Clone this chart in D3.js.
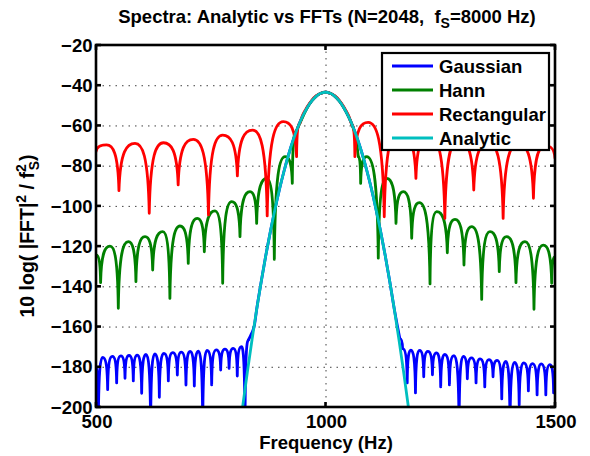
<!DOCTYPE html>
<html>
<head>
<meta charset="utf-8">
<script src="https://cdn.jsdelivr.net/npm/d3@7"></script>
<style>
body { margin:0; background:#fff; }
text { font-family: "Liberation Sans", Arial, Helvetica, sans-serif; font-weight: bold; fill:#000; white-space: pre; }
</style>
</head>
<body>
<div id="chart"></div>
<script>
// ---- data: [frequency Hz, dB] ----
var xTicks = [500, 1000, 1500];
var yTicks = [-20, -40, -60, -80, -100, -120, -140, -160, -180, -200];
var seriesNames = ["Gaussian", "Hann", "Rectangular", "Analytic"];
var seriesColors = ["#0000ff", "#008000", "#ff0000", "#00bfbf"];

// sidelobes are listed null / peak / null ...
var gaussLeft = [[500,-180],[505,-210],[514.5,-175.3],[525.4,-191.4],[535.6,-174.8],[545,-188],[554,-174.6],[563.2,-185.7],
  [572,-174.4],[581.3,-187],[590,-174.2],[599.5,-193.2],[609,-173.9],[619,-210],[628,-173.6],[638,-195.2],[648,-173.3],
  [657.6,-187],[667,-173],[677.2,-184.1],[686,-172.7],[696,-189.1],[705,-172.4],[714.2,-189.6],[723,-172.2],[732.5,-210],
  [742,-171.9],[752,-189],[762,-171.6],[771.6,-181.6],[781,-171.2],[790,-180.8],[799,-170.8],[807.8,-184.6],[817,-170],
  [824.6,-212],[832,-166.7]];
var gaussMain = [[832,-166.7],[839,-163.4],[845,-159.5],[850,-151.5],[860,-137.6],[870,-124.6],[880,-112.6],[890,-101.6],
  [900,-91.5],[910,-82.4],[920,-74.2],[930,-67],[940,-60.8],[950,-55.5],[960,-51.2],[970,-47.8],[980,-45.4],[990,-44],
  [1000,-43.5],[1010,-44],[1020,-45.4],[1030,-47.8],[1040,-51.2],[1050,-55.5],[1060,-60.8],[1070,-67],[1080,-74.2],
  [1090,-82.4],[1100,-91.5],[1110,-101.6],[1120,-112.6],[1130,-124.6],[1140,-137.6],[1150,-151.5],[1156,-159],[1162,-166]];
var gaussRight = [[1162,-166],[1168,-171],[1178,-188],[1186,-171.7],[1196,-193],[1205,-171.8],[1214,-185],[1223,-172.3],
  [1233,-184],[1242,-173.1],[1251,-190],[1260,-173.9],[1270,-189],[1280,-174.5],[1291,-210],[1300,-174.8],[1309,-186],
  [1318,-175.6],[1328,-188],[1337,-176.1],[1347,-190],[1356,-176.4],[1365,-185],[1374,-176.8],[1384,-196],[1393,-177.3],
  [1402,-210],[1412,-177.8],[1422,-199],[1432,-178.1],[1442,-192],[1451,-178.4],[1461,-194],[1470,-178.6],[1480,-194],
  [1489,-178.9],[1497,-193],[1500,-183]];

var hannLeft = [[500,-124.4],[510,-138.2],[530.5,-120],[548.6,-150.9],[570.5,-117.8],[587,-137.7],[606.8,-115.3],
  [623.5,-131.9],[645.3,-112.8],[661,-146],[683,-110],[701,-128.6],[720.7,-106.2],[736,-122.8],[759.3,-102.5],
  [776,-138.5],[795.6,-97.9],[813.7,-115.3],[835.5,-92.9],[850,-108.7],[871.9,-86.3],[888.5,-126.6],[911.8,-75.5],
  [927.7,-88.8],[936,-63]];
var hannMain = [[936,-63],[945,-58.5],[960,-51.2],[970,-47.8],[980,-45.4],[990,-44],[1000,-43.5],[1010,-44],[1020,-45.4],
  [1030,-47.8],[1040,-51.2],[1050,-55.5],[1060,-61],[1066,-66],[1071.5,-75.5]];
var hannRight = [[1071.5,-75.5],[1076.6,-88.8],[1089.7,-75.5],[1115,-126],[1133.3,-86.3],[1153.6,-108.7],[1169.5,-92.9],
  [1187.8,-116.1],[1204.4,-98.4],[1227.7,-138.8],[1242.2,-102.9],[1265.4,-123.3],[1282.1,-106.7],[1301.7,-129.4],
  [1318.5,-110.3],[1340.3,-146.5],[1358.4,-112.8],[1378.6,-132.7],[1394.7,-115.3],[1415,-138.2],[1434.6,-117.8],
  [1454.2,-151.4],[1474.5,-119.5],[1492.8,-138.5],[1500,-125.3]];

var rectLeft = [[500,-73],[523,-69.7],[550,-92.4],[585,-68.9],[616,-103.7],[647,-68.6],[679,-89.6],[712,-66.9],
  [745,-104.5],[776,-64.8],[808,-85.1],[841,-62.3],[873,-105],[908,-58.1],[937,-75.5],[944,-59]];
var rectMain = [[944,-59],[950,-55],[960,-50.8],[970,-47.5],[980,-45.2],[990,-44],[1000,-43.5],[1010,-44],[1020,-45.2],
  [1030,-47.5],[1040,-50.8],[1050,-55],[1057,-59.5]];
var rectRight = [[1057,-59.5],[1064,-75.5],[1093,-58.5],[1128,-105.4],[1160,-62.5],[1197,-86.3],[1226,-65],
  [1260,-106.2],[1290,-67],[1323,-92.1],[1355,-68.5],[1387,-106.2],[1420,-69],[1453,-96.2],[1478,-70],[1500,-76.3]];

var analytic = [[815,-208],[820,-199],[830,-182.2],[840,-166.4],[850,-151.5],[860,-137.6],[870,-124.6],[880,-112.6],
  [890,-101.6],[900,-91.5],[910,-82.4],[920,-74.2],[930,-67],[940,-60.8],[950,-55.5],[960,-51.2],[970,-47.8],[980,-45.4],
  [990,-44],[1000,-43.5],[1010,-44],[1020,-45.4],[1030,-47.8],[1040,-51.2],[1050,-55.5],[1060,-60.8],[1070,-67],
  [1080,-74.2],[1090,-82.4],[1100,-91.5],[1110,-101.6],[1120,-112.6],[1130,-124.6],[1140,-137.6],[1150,-151.5],
  [1160,-166.4],[1170,-182.2],[1180,-199],[1185,-208]];

// ---- layout ----
var W = 590, H = 456;
var pLeft = 96, pRight = 555, pTop = 45, pBottom = 407;
var lw = 2.8;

var svg = d3.select("#chart").append("svg")
    .attr("width", W)
    .attr("height", H);

var x = d3.scaleLinear().domain([500, 1500]).range([pLeft, pRight]);
var y = d3.scaleLinear().domain([-200, -20]).range([pBottom, pTop]);

svg.append("defs").append("clipPath").attr("id", "plotclip")
  .append("rect")
    .attr("x", pLeft).attr("y", pTop)
    .attr("width", pRight - pLeft).attr("height", pBottom - pTop);

// grid (dotted, behind the data)
var grid = svg.append("g").attr("stroke", "#404040").attr("stroke-width", 1).attr("stroke-dasharray", "1.5,5");
grid.selectAll("line.gy").data(yTicks.slice(1, -1)).enter().append("line")
    .attr("x1", pLeft).attr("x2", pRight)
    .attr("y1", function(d){ return y(d) + 0.5; }).attr("y2", function(d){ return y(d) + 0.5; });
grid.selectAll("line.gx").data(xTicks.slice(1, -1)).enter().append("line")
    .attr("y1", pTop).attr("y2", pBottom)
    .attr("x1", function(d){ return x(d) + 0.5; }).attr("x2", function(d){ return x(d) + 0.5; });

// sidelobe drawing: sharp at each null, round over each peak
function lobePath(pts){
  var p = d3.path();
  pts.forEach(function(d, i){
    var x1 = x(d[0]), y1 = y(d[1]);
    if(i == 0){ p.moveTo(x1, y1); return; }
    var x0 = x(pts[i-1][0]), y0 = y(pts[i-1][1]);
    var dx = x1 - x0;
    if(y1 < y0) // up out of a null
      p.bezierCurveTo(x0 + 0.08 * dx, y0 + 0.85 * (y1 - y0), x0 + 0.5 * dx, y1, x1, y1);
    else        // down into a null
      p.bezierCurveTo(x0 + 0.5 * dx, y0, x1 - 0.08 * dx, y1 + 0.85 * (y0 - y1), x1, y1);
  });
  return p.toString();
}

var smooth = d3.line()
    .x(function(d){ return x(d[0]); })
    .y(function(d){ return y(d[1]); })
    .curve(d3.curveMonotoneX);

var plot = svg.append("g").attr("clip-path", "url(#plotclip)")
    .attr("fill", "none").attr("stroke-width", lw)
    .attr("stroke-linejoin", "round").attr("stroke-linecap", "round");

var curves = [
  {color: seriesColors[0], parts: [gaussLeft, gaussMain, gaussRight]},
  {color: seriesColors[1], parts: [hannLeft, hannMain, hannRight]},
  {color: seriesColors[2], parts: [rectLeft, rectMain, rectRight]}
];
curves.forEach(function(c){
  plot.append("path").attr("stroke", c.color).attr("d", lobePath(c.parts[0]));
  plot.append("path").attr("stroke", c.color).attr("d", smooth(c.parts[1]));
  plot.append("path").attr("stroke", c.color).attr("d", lobePath(c.parts[2]));
});
plot.append("path").attr("stroke", seriesColors[3]).attr("d", smooth(analytic));

// box + inward ticks
var tl = 5;
var axes = svg.append("g").attr("stroke", "#000").attr("stroke-width", 2.6).attr("fill", "none");
axes.append("rect")
    .attr("x", pLeft).attr("y", pTop)
    .attr("width", pRight - pLeft).attr("height", pBottom - pTop);
xTicks.forEach(function(t){
  axes.append("line").attr("x1", x(t)).attr("x2", x(t)).attr("y1", pBottom).attr("y2", pBottom - tl);
  axes.append("line").attr("x1", x(t)).attr("x2", x(t)).attr("y1", pTop).attr("y2", pTop + tl);
});
yTicks.forEach(function(t){
  axes.append("line").attr("y1", y(t)).attr("y2", y(t)).attr("x1", pLeft).attr("x2", pLeft + tl);
  axes.append("line").attr("y1", y(t)).attr("y2", y(t)).attr("x1", pRight).attr("x2", pRight - tl);
});

var fs = "18.5px";
svg.append("g").selectAll("text").data(xTicks).enter().append("text")
    .attr("x", function(d){ return x(d) + 1; })
    .attr("y", 428)
    .attr("text-anchor", "middle")
    .style("font-size", fs)
    .text(function(d){ return d; });
svg.append("g").selectAll("text").data(yTicks).enter().append("text")
    .attr("x", 92.5)
    .attr("y", function(d){ return y(d); })
    .attr("dy", "0.36em")
    .attr("text-anchor", "end")
    .style("font-size", fs)
    .text(function(d){ return String(d).replace("-", "\u2212"); });

// title
var title = svg.append("text")
    .attr("x", 327).attr("y", 23)
    .attr("text-anchor", "middle")
    .style("font-size", fs);
title.append("tspan").text("Spectra: Analytic vs FFTs (N=2048,  f");
title.append("tspan").attr("dy", 5).style("font-size", "14px").text("S");
title.append("tspan").attr("dy", -5).text("=8000 Hz)");

// x label
svg.append("text")
    .attr("x", 326).attr("y", 449)
    .attr("text-anchor", "middle")
    .style("font-size", fs)
    .text("Frequency (Hz)");

// y label
var ylab = svg.append("text")
    .attr("transform", "translate(34,236) rotate(-90)")
    .attr("text-anchor", "middle")
    .style("font-size", "19.5px");
ylab.append("tspan").text("10 log( |FFT|");
ylab.append("tspan").attr("dy", -8).style("font-size", "14px").text("2");
ylab.append("tspan").attr("dy", 8).text(" / f");
ylab.append("tspan").attr("dy", -8).style("font-size", "14px").text("2");
ylab.append("tspan").attr("dx", -6).attr("dy", 13).style("font-size", "14px").text("S");
ylab.append("tspan").attr("dy", -5).text(")");

// legend
var leg = svg.append("g");
leg.append("rect")
    .attr("x", 382).attr("y", 53)
    .attr("width", 167).attr("height", 97)
    .attr("fill", "#fff").attr("stroke", "#000").attr("stroke-width", 2.2);
seriesNames.forEach(function(name, i){
  var cy = 66 + i * 24;
  leg.append("line")
      .attr("x1", 392).attr("x2", 433).attr("y1", cy).attr("y2", cy)
      .attr("stroke", seriesColors[i]).attr("stroke-width", lw);
  leg.append("text")
      .attr("x", 439).attr("y", cy + 7)
      .style("font-size", fs)
      .text(name);
});
</script>
</body>
</html>
